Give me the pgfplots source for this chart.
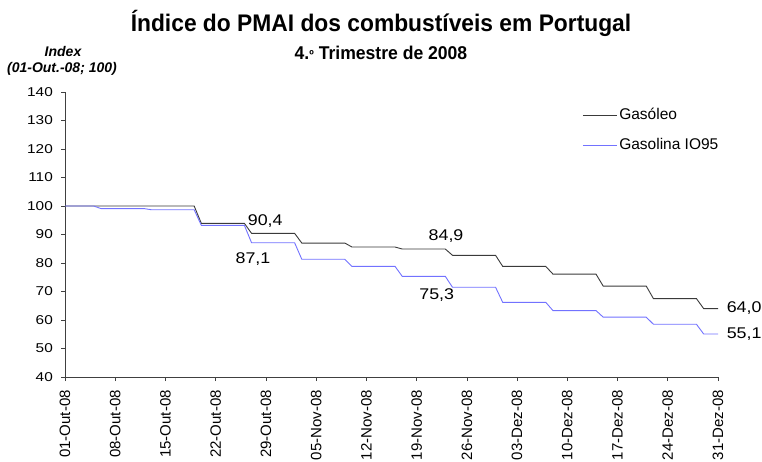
\documentclass[border=0pt]{standalone}
\usepackage{pgfplots}
\pgfplotsset{compat=1.18}
\usepackage{fontspec}
\setmainfont{Liberation Sans}
\newfontfamily\tickfont[FakeStretch=1.2]{Liberation Sans}
\newfontfamily\labfont[FakeStretch=1.15]{Liberation Sans}
\newfontfamily\titlefont[FakeStretch=0.95]{Liberation Sans}
\definecolor{diesel}{HTML}{3A3A3A}
\definecolor{petrol}{HTML}{7272FF}
\pgfplotstableread{
x y
0 100
18 100
19 93.9
25 93.9
26 90.4
32 90.4
33 87.0
39 87.0
40 85.6
46 85.6
47 84.9
53 84.9
54 82.7
60 82.7
61 78.8
67 78.8
68 76.1
74 76.1
75 71.9
81 71.9
82 67.5
88 67.5
89 64.0
91 64.0
}\gasoleo
\pgfplotstableread{
x y
0 100
4 100
5 99.1
11 99.1
12 98.7
18 98.7
19 93.2
25 93.2
26 87.1
32 87.1
33 81.3
39 81.3
40 78.8
46 78.8
47 75.3
53 75.3
54 71.5
60 71.5
61 66.2
67 66.2
68 63.3
74 63.3
75 61.0
81 61.0
82 58.5
88 58.5
89 55.1
91 55.1
}\gasolina
\begin{document}
\begin{tikzpicture}
\useasboundingbox (0pt,0pt) rectangle (762pt,461pt);
\begin{axis}[
  at={(65pt,84pt)}, anchor=south west,
  scale only axis, width=653pt, height=285pt,
  xmin=0, xmax=91, ymin=40, ymax=140,
  axis lines=left, axis line style={-, black!75},
  xtick={0,7,14,21,28,35,42,49,56,63,70,77,84,91},
  xticklabels={01-Out-08,08-Out-08,15-Out-08,22-Out-08,29-Out-08,05-Nov-08,12-Nov-08,19-Nov-08,26-Nov-08,03-Dez-08,10-Dez-08,17-Dez-08,24-Dez-08,31-Dez-08},
  x tick label style={rotate=90, anchor=east, font=\fontsize{15}{15}\selectfont, inner sep=0pt, xshift=-9pt},
  ytick={40,50,...,140},
  y tick label style={font=\tickfont\fontsize{12.8}{12.8}\selectfont, inner sep=0pt, xshift=-8pt},
  /pgf/number format/assume math mode=true,
  tick align=outside, major tick length=4pt,
  tick style={black!75, line width=0.6pt},
  clip=false,
  legend style={at={(0.792,0.95)}, anchor=north west, draw=none, fill=none,
    font=\fontsize{15.5}{15.5}\selectfont, row sep=12pt, inner sep=0pt,
    nodes={text height=11pt, text depth=3pt},
    legend cell align=left},
  legend image code/.code={\draw[#1] (0pt,0pt) -- (34pt,0pt);},
]
\addplot[diesel, line width=0.9pt] table[x=x,y=y] {\gasoleo};
\addlegendentry{Gasóleo}
\addplot[petrol, line width=0.9pt] table[x=x,y=y] {\gasolina};
\addlegendentry{Gasolina IO95}
\node[font=\labfont\fontsize{15.5}{15.5}\selectfont] at (axis cs:27.9,94.7) {90,4};
\node[font=\labfont\fontsize{15.5}{15.5}\selectfont] at (axis cs:26.2,81.4) {87,1};
\node[font=\labfont\fontsize{15.5}{15.5}\selectfont] at (axis cs:53.1,89.5) {84,9};
\node[font=\labfont\fontsize{15.5}{15.5}\selectfont] at (axis cs:51.8,68.8) {75,3};
\node[font=\labfont\fontsize{15.5}{15.5}\selectfont, anchor=west, inner sep=0pt] at (axis cs:92.2,64.2) {64,0};
\node[font=\labfont\fontsize{15.5}{15.5}\selectfont, anchor=west, inner sep=0pt] at (axis cs:92.2,55.2) {55,1};
\end{axis}
\node[font=\titlefont\bfseries\fontsize{24}{24}\selectfont, anchor=base] at (381pt,429pt) {Índice do PMAI dos combustíveis em Portugal};
\node[font=\titlefont\bfseries\fontsize{18.5}{18.5}\selectfont, anchor=base] at (381pt,401pt) {4.{\fontsize{13}{13}\selectfont º} Trimestre de 2008};
\node[font=\bfseries\itshape\fontsize{14}{14}\selectfont] at (63pt,409pt) {Index};
\node[font=\bfseries\itshape\fontsize{14}{14}\selectfont] at (62pt,392.5pt) {(01-Out.-08; 100)};
\end{tikzpicture}
\end{document}
